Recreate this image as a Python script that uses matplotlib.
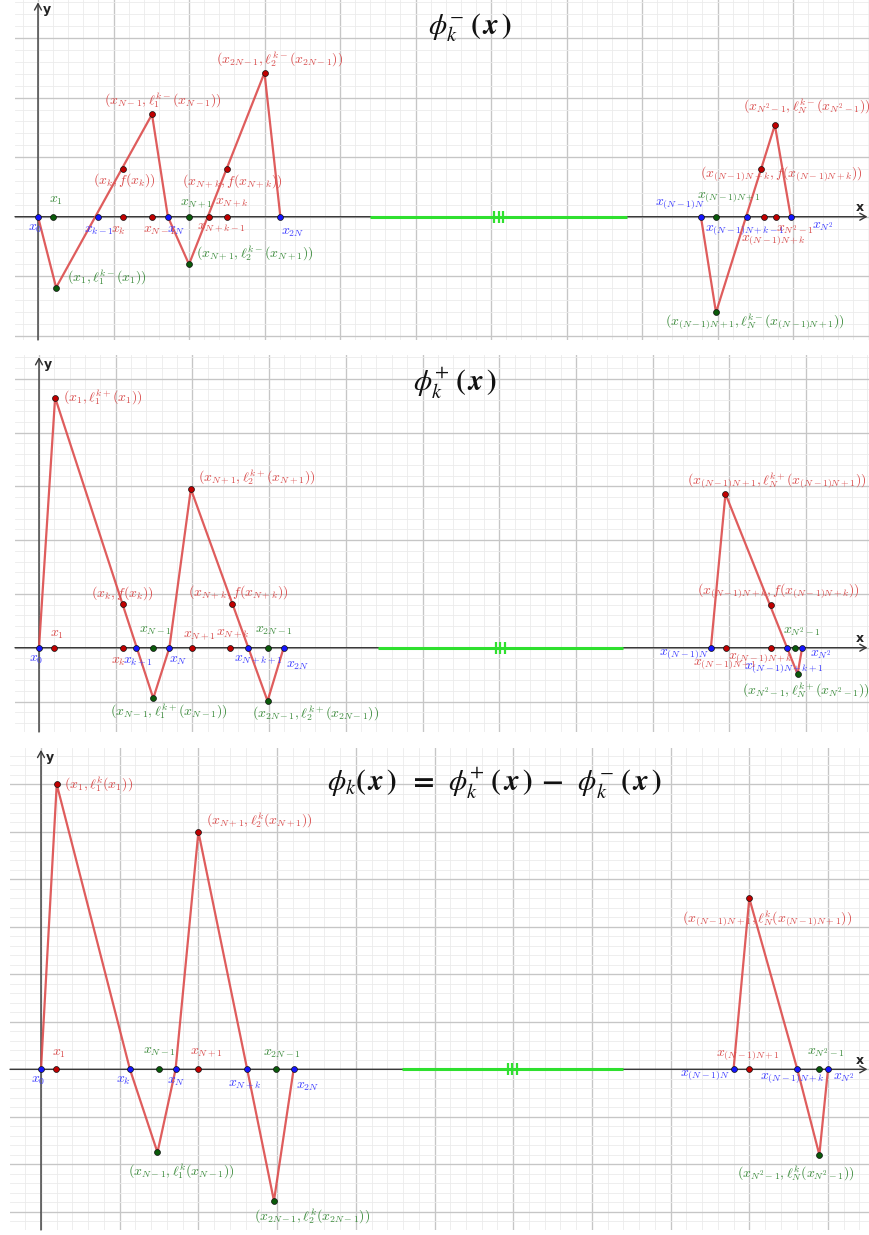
import numpy as np
import matplotlib.pyplot as plt
from matplotlib.ticker import MultipleLocator
from matplotlib.transforms import offset_copy

plt.rcParams['mathtext.fontset'] = 'cm'

W, H = 869, 1235

# ---------------- phi_k^- ----------------
MINUS_LEFT_X = [0.0, 0.24, 1.51, 1.72, 2.00, 3.00, 3.21]
MINUS_LEFT_Y = [0.0, -1.19, 1.72, 0.0, -0.80, 2.42, 0.0]
MINUS_RIGHT_X = [8.78, 8.98, 9.76, 9.97]
MINUS_RIGHT_Y = [0.0, -1.61, 1.54, 0.0]
MINUS_AXIS_X = [0.0, 0.20, 0.79, 1.12, 1.51, 1.72, 2.00, 2.26, 2.50, 3.21,
                8.78, 8.98, 9.39, 9.61, 9.78, 9.97]
MINUS_AXIS_KIND = ['b', 'g', 'b', 'r', 'r', 'b', 'g', 'r', 'r', 'b',
                   'b', 'g', 'b', 'r', 'r', 'b']
MINUS_AXIS_LAB = [r'$x_0$', r'$x_1$', r'$x_{k-1}$', r'$x_k$', r'$x_{N-1}$', r'$x_N$',
                  r'$x_{N+1}$', r'$x_{N+k-1}$', r'$x_{N+k}$', r'$x_{2N}$',
                  r'$x_{(N-1)N}$', r'$x_{(N-1)N+1}$', r'$x_{(N-1)N+k-1}$',
                  r'$x_{(N-1)N+k}$', r'$x_{N^2-1}$', r'$x_{N^2}$']
MINUS_PTS_X = [0.24, 1.12, 1.51, 2.00, 2.50, 3.00, 8.98, 9.58, 9.76]
MINUS_PTS_Y = [-1.19, 0.81, 1.72, -0.80, 0.81, 2.42, -1.61, 0.81, 1.54]
MINUS_PTS_KIND = ['g', 'r', 'r', 'g', 'r', 'r', 'g', 'r', 'r']
MINUS_PTS_LAB = [r'$(x_1,\ell_1^{k-}(x_1))$', r'$(x_k,f(x_k))$',
                 r'$(x_{N-1},\ell_1^{k-}(x_{N-1}))$', r'$(x_{N+1},\ell_2^{k-}(x_{N+1}))$',
                 r'$(x_{N+k},f(x_{N+k}))$', r'$(x_{2N-1},\ell_2^{k-}(x_{2N-1}))$',
                 r'$(x_{(N-1)N+1},\ell_N^{k-}(x_{(N-1)N+1}))$',
                 r'$(x_{(N-1)N+k},f(x_{(N-1)N+k}))$',
                 r'$(x_{N^2-1},\ell_N^{k-}(x_{N^2-1}))$']
MINUS_GAP = [4.40, 7.80]
MINUS_TITLE = r'$\boldsymbol{\phi_k^{-}\;(\,x\,)}$'

# ---------------- phi_k^+ ----------------
PLUS_LEFT_X = [0.0, 0.21, 1.49, 1.70, 1.98, 2.98, 3.19]
PLUS_LEFT_Y = [0.0, 4.65, -0.94, 0.0, 2.95, -0.99, 0.0]
PLUS_RIGHT_X = [8.76, 8.95, 9.89, 9.95]
PLUS_RIGHT_Y = [0.0, 2.86, -0.49, 0.0]
PLUS_AXIS_X = [0.0, 0.19, 1.10, 1.27, 1.49, 1.70, 1.99, 2.49, 2.72, 2.98, 3.19,
               8.76, 8.96, 9.54, 9.75, 9.86, 9.95]
PLUS_AXIS_KIND = ['b', 'r', 'r', 'b', 'g', 'b', 'r', 'r', 'b', 'g', 'b',
                  'b', 'r', 'r', 'b', 'g', 'b']
PLUS_AXIS_LAB = [r'$x_0$', r'$x_1$', r'$x_k$', r'$x_{k+1}$', r'$x_{N-1}$', r'$x_N$',
                 r'$x_{N+1}$', r'$x_{N+k}$', r'$x_{N+k+1}$', r'$x_{2N-1}$', r'$x_{2N}$',
                 r'$x_{(N-1)N}$', r'$x_{(N-1)N+1}$', r'$x_{(N-1)N+k}$',
                 r'$x_{(N-1)N+k+1}$', r'$x_{N^2-1}$', r'$x_{N^2}$']
PLUS_PTS_X = [0.21, 1.10, 1.49, 1.98, 2.51, 2.98, 8.95, 9.54, 9.89]
PLUS_PTS_Y = [4.65, 0.81, -0.94, 2.95, 0.81, -0.99, 2.86, 0.79, -0.49]
PLUS_PTS_KIND = ['r', 'r', 'g', 'r', 'r', 'g', 'r', 'r', 'g']
PLUS_PTS_LAB = [r'$(x_1,\ell_1^{k+}(x_1))$', r'$(x_k,f(x_k))$',
                r'$(x_{N-1},\ell_1^{k+}(x_{N-1}))$', r'$(x_{N+1},\ell_2^{k+}(x_{N+1}))$',
                r'$(x_{N+k},f(x_{N+k}))$', r'$(x_{2N-1},\ell_2^{k+}(x_{2N-1}))$',
                r'$(x_{(N-1)N+1},\ell_N^{k+}(x_{(N-1)N+1}))$',
                r'$(x_{(N-1)N+k},f(x_{(N-1)N+k}))$',
                r'$(x_{N^2-1},\ell_N^{k+}(x_{N^2-1}))$']
PLUS_GAP = [4.42, 7.61]
PLUS_TITLE = r'$\boldsymbol{\phi_k^{+}\;(\,x\,)}$'

# ---------------- phi_k ----------------
PHI_LEFT_X = [0.0, 0.20, 1.13, 1.48, 1.71, 2.00, 2.62, 2.96, 3.21]
PHI_LEFT_Y = [0.0, 6.0, 0.0, -1.75, 0.0, 5.0, 0.0, -2.77, 0.0]
PHI_RIGHT_X = [8.80, 9.00, 9.61, 9.89, 10.0]
PHI_RIGHT_Y = [0.0, 3.6, 0.0, -1.8, 0.0]
PHI_AXIS_X = [0.0, 0.19, 1.13, 1.50, 1.71, 2.00, 2.62, 2.99, 3.21,
              8.80, 9.00, 9.61, 9.89, 10.0]
PHI_AXIS_KIND = ['b', 'r', 'b', 'g', 'b', 'r', 'b', 'g', 'b',
                 'b', 'r', 'b', 'g', 'b']
PHI_AXIS_LAB = [r'$x_0$', r'$x_1$', r'$x_k$', r'$x_{N-1}$', r'$x_N$', r'$x_{N+1}$',
                r'$x_{N+k}$', r'$x_{2N-1}$', r'$x_{2N}$',
                r'$x_{(N-1)N}$', r'$x_{(N-1)N+1}$', r'$x_{(N-1)N+k}$',
                r'$x_{N^2-1}$', r'$x_{N^2}$']
PHI_PTS_X = [0.20, 1.48, 2.00, 2.96, 9.00, 9.89]
PHI_PTS_Y = [6.0, -1.75, 5.0, -2.77, 3.6, -1.8]
PHI_PTS_KIND = ['r', 'g', 'r', 'g', 'r', 'g']
PHI_PTS_LAB = [r'$(x_1,\ell_1^{k}(x_1))$', r'$(x_{N-1},\ell_1^{k}(x_{N-1}))$',
               r'$(x_{N+1},\ell_2^{k}(x_{N+1}))$', r'$(x_{2N-1},\ell_2^{k}(x_{2N-1}))$',
               r'$(x_{(N-1)N+1},\ell_N^{k}(x_{(N-1)N+1}))$',
               r'$(x_{N^2-1},\ell_N^{k}(x_{N^2-1}))$']
PHI_GAP = [4.59, 7.39]
PHI_TITLE = (r'$\boldsymbol{\phi_k(\,x\,)\;\;=\;\;\phi_k^{+}\;(\,x\,)\;-\;\;'
             r'\phi_k^{-}\;(\,x\,)}$')

# ---------------- layout (pixels) ----------------
# label offsets: (left edge dx, centre dy) from the dot, y pointing down
MINUS_AXIS_OFF = [(-10, 11), (-4, -17), (-14, 13), (-12, 13), (-9, 13), (-1, 13),
                  (-9, -13), (-12, 11), (-12, -14), (1, 15),
                  (-46, -13), (-19, -20), (-42, 13), (-23, 23), (0, 13), (21, 10)]
MINUS_PTS_OFF = [(11, -10), (-30, 12), (-48, -14), (7, -11), (-45, 13), (-48, -13),
                 (-51, 9), (-61, 5), (-32, -19)]
PLUS_AXIS_OFF = [(-10, 11), (-4, -14), (-12, 13), (-13, 14), (-14, -18), (0, 12),
                 (-9, -12), (-14, -14), (-14, 12), (-13, -18), (2, 17),
                 (-52, 6), (-33, 16), (-43, 10), (-43, 20), (-12, -16), (8, 7)]
PLUS_PTS_OFF = [(8, 0), (-32, -11), (-43, 13), (7, -12), (-44, -12), (-16, 12),
                (-38, -14), (-74, -14), (-56, 16)]
PHI_AXIS_OFF = [(-10, 11), (-4, -16), (-14, 11), (-16, -18), (-9, 12), (-8, -16),
                (-19, 16), (-13, -16), (2, 17),
                (-54, 6), (-33, -14), (-37, 9), (-12, -16), (5, 9)]
PHI_PTS_OFF = [(7, 0), (-29, 19), (8, -12), (-20, 15), (-67, 20), (-82, 18)]

DOT_COLOR = {'r': '#c00000', 'b': '#1515ff', 'g': '#0a5a0a'}
TEXT_COLOR = {'r': '#d94a4a', 'b': '#3a3aff', 'g': '#3a8a3a'}
LINE_COLOR = '#dc4b4b'
GAP_COLOR = '#2fe02f'

fig = plt.figure(figsize=(W / 100, H / 100), dpi=100)


def make_panel(box, origin, unit):
    left, top, right, bottom = box
    ox, oy = origin
    ux, uy = unit
    ax = fig.add_axes([left / W, 1 - bottom / H, (right - left) / W, (bottom - top) / H])
    ax.set_xlim((left - ox) / ux, (right - ox) / ux)
    ax.set_ylim((oy - bottom) / uy, (oy - top) / uy)
    ax.xaxis.set_major_locator(MultipleLocator(1))
    ax.yaxis.set_major_locator(MultipleLocator(1))
    ax.xaxis.set_minor_locator(MultipleLocator(0.2))
    ax.yaxis.set_minor_locator(MultipleLocator(0.2))
    ax.grid(which='major', color='#c6c6c6', lw=0.95, zorder=0)
    ax.grid(which='minor', color='#ebebeb', lw=0.6, zorder=0)
    ax.set_axisbelow(True)
    ax.tick_params(which='both', length=0, labelbottom=False, labelleft=False)
    for s in ax.spines.values():
        s.set_visible(False)
    x0, x1 = ax.get_xlim()
    y0, y1 = ax.get_ylim()
    arrow = dict(arrowstyle='->,head_length=0.45,head_width=0.25', color='#3a3a3a',
                 lw=1.0, shrinkA=0, shrinkB=0)
    ax.annotate('', xy=(x1 - 0.02, 0), xytext=(x0, 0), arrowprops=arrow, zorder=2)
    ax.annotate('', xy=(0, y1 - 0.04), xytext=(0, y0), arrowprops=arrow, zorder=2)
    ax.annotate('x', xy=(x1, 0), xytext=(-9, 9), textcoords='offset pixels',
                ha='center', va='center', fontsize=9, fontweight='bold', color='#222222')
    ax.annotate('y', xy=(0, y1), xytext=(5, -10), textcoords='offset pixels',
                ha='left', va='center', fontsize=9, fontweight='bold', color='#222222')
    return ax


def fill_panel(ax, lines, gap, axis_x, axis_kind, axis_lab, axis_off,
               pts_x, pts_y, pts_kind, pts_lab, pts_off):
    # green gap segment with triple tick
    ax.plot(gap, [0, 0], color=GAP_COLOR, lw=2.2, zorder=3, solid_capstyle='butt')
    mid = (gap[0] + gap[1]) / 2
    for dx in (-4.5, 0, 4.5):
        tr = offset_copy(ax.transData, fig=fig, x=dx, y=0, units='dots')
        ax.plot([mid], [0], marker='|', markersize=8, mew=1.6, color=GAP_COLOR,
                transform=tr, zorder=3)
    for xs, ys in lines:
        ax.plot(xs, ys, color=LINE_COLOR, lw=1.6, alpha=0.9, zorder=4,
                solid_joinstyle='miter')
    for x, k, lab, (dx, dy) in zip(axis_x, axis_kind, axis_lab, axis_off):
        ax.scatter([x], [0], s=18, color=DOT_COLOR[k], edgecolor='#111111',
                   linewidth=0.5, zorder=5)
        ax.annotate(lab, xy=(x, 0), xytext=(dx, -dy), textcoords='offset pixels',
                    ha='left', va='center', fontsize=10, color=TEXT_COLOR[k], zorder=6)
    for x, y, k, lab, (dx, dy) in zip(pts_x, pts_y, pts_kind, pts_lab, pts_off):
        ax.scatter([x], [y], s=18, color=DOT_COLOR[k], edgecolor='#111111',
                   linewidth=0.5, zorder=5)
        ax.annotate(lab, xy=(x, y), xytext=(dx, -dy), textcoords='offset pixels',
                    ha='left', va='center', fontsize=10, color=TEXT_COLOR[k], zorder=6)


ax1 = make_panel((15, 0, 869, 340), (38, 216.7), (75.5, 59.5))
fill_panel(ax1, [(MINUS_LEFT_X, MINUS_LEFT_Y), (MINUS_RIGHT_X, MINUS_RIGHT_Y)], MINUS_GAP,
           MINUS_AXIS_X, MINUS_AXIS_KIND, MINUS_AXIS_LAB, MINUS_AXIS_OFF,
           MINUS_PTS_X, MINUS_PTS_Y, MINUS_PTS_KIND, MINUS_PTS_LAB, MINUS_PTS_OFF)

ax2 = make_panel((15, 355, 869, 732), (39, 647.7), (76.7, 53.8))
fill_panel(ax2, [(PLUS_LEFT_X, PLUS_LEFT_Y), (PLUS_RIGHT_X, PLUS_RIGHT_Y)], PLUS_GAP,
           PLUS_AXIS_X, PLUS_AXIS_KIND, PLUS_AXIS_LAB, PLUS_AXIS_OFF,
           PLUS_PTS_X, PLUS_PTS_Y, PLUS_PTS_KIND, PLUS_PTS_LAB, PLUS_PTS_OFF)

ax3 = make_panel((10, 748, 869, 1230), (41, 1069.3), (78.7, 47.5))
fill_panel(ax3, [(PHI_LEFT_X, PHI_LEFT_Y), (PHI_RIGHT_X, PHI_RIGHT_Y)], PHI_GAP,
           PHI_AXIS_X, PHI_AXIS_KIND, PHI_AXIS_LAB, PHI_AXIS_OFF,
           PHI_PTS_X, PHI_PTS_Y, PHI_PTS_KIND, PHI_PTS_LAB, PHI_PTS_OFF)

# titles
for txt, (px, py) in [(MINUS_TITLE, (470, 28)), (PLUS_TITLE, (455, 383)),
                      (PHI_TITLE, (495, 783))]:
    fig.text(px / W, 1 - py / H, txt, ha='center', va='center', fontsize=21,
             color='#111111', math_fontfamily='stix', zorder=10)

fig.savefig('out.png', dpi=100, facecolor='white')
